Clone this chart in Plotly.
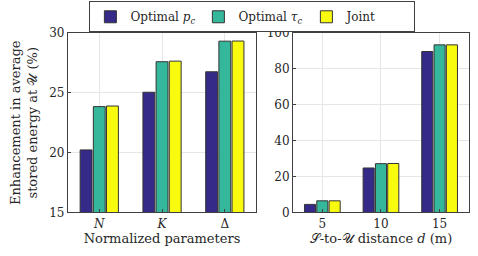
import plotly.graph_objects as go
from plotly.subplots import make_subplots

series = ["Optimal <i>p</i><sub><i>c</i></sub>", "Optimal <i>τ</i><sub><i>c</i></sub>", "Joint"]
colors = ["#352a87", "#35b79b", "#f9fb0e"]

left_cats = ["<i>N</i>", "<i>K</i>", "Δ"]
left_vals = [
    [20.23, 25.05, 26.76],
    [23.85, 27.6, 29.32],
    [23.9, 27.65, 29.33],
]
right_cats = ["5", "10", "15"]
right_vals = [
    [4.5, 24.8, 89.7],
    [6.5, 27.2, 93.4],
    [6.5, 27.3, 93.4],
]

font = "DejaVu Serif"
fig = make_subplots(rows=1, cols=2)
for i in range(3):
    fig.add_trace(go.Bar(x=left_cats, y=left_vals[i], name=series[i], marker_color=colors[i],
                         marker_line_color="#333333", marker_line_width=1, showlegend=True), row=1, col=1)
    fig.add_trace(go.Bar(x=right_cats, y=right_vals[i], name=series[i], marker_color=colors[i],
                         marker_line_color="#333333", marker_line_width=1, showlegend=False), row=1, col=2)

axis_common = dict(showline=True, linecolor="#404040", linewidth=1, mirror=True,
                   showgrid=True, gridcolor="#e6e6e6", gridwidth=1,
                   ticks="inside", ticklen=3, tickcolor="#404040",
                   tickfont=dict(family=font, size=12, color="#262626"), zeroline=False)

fig.update_layout(
    width=478, height=256, margin=dict(l=0, r=0, t=0, b=0, autoexpand=False),
    paper_bgcolor="white", plot_bgcolor="white",
    bargap=0.37, bargroupgap=0.1,
    font=dict(family=font, size=12, color="#262626"),
    legend=dict(orientation="h", x=0.528, xanchor="center", y=0.995, yanchor="top",
                bordercolor="#404040", borderwidth=1, font=dict(family=font, size=12),
                entrywidth=63, entrywidthmode="pixels", tracegroupgap=0),
    xaxis=dict(domain=[0.142, 0.536], **axis_common,
               title=dict(text="Normalized parameters", standoff=4, font=dict(family=font, size=13))),
    yaxis=dict(domain=[0.170, 0.871], range=[15, 30], tickvals=[15, 20, 25, 30], **axis_common,
               title=dict(text="Enhancement in average<br>stored energy at 𝒰 (%)", standoff=8,
                          font=dict(family=font, size=13))),
    xaxis2=dict(domain=[0.613, 0.981], **axis_common,
                title=dict(text="𝒮-to-𝒰 distance <i>d</i> (m)", standoff=4, font=dict(family=font, size=13))),
    yaxis2=dict(domain=[0.170, 0.871], range=[0, 100], tickvals=[0, 20, 40, 60, 80, 100], **axis_common),
)

fig.write_html("out.html", config={"displayModeBar": False},
               post_script="document.body.style.margin='0';")
